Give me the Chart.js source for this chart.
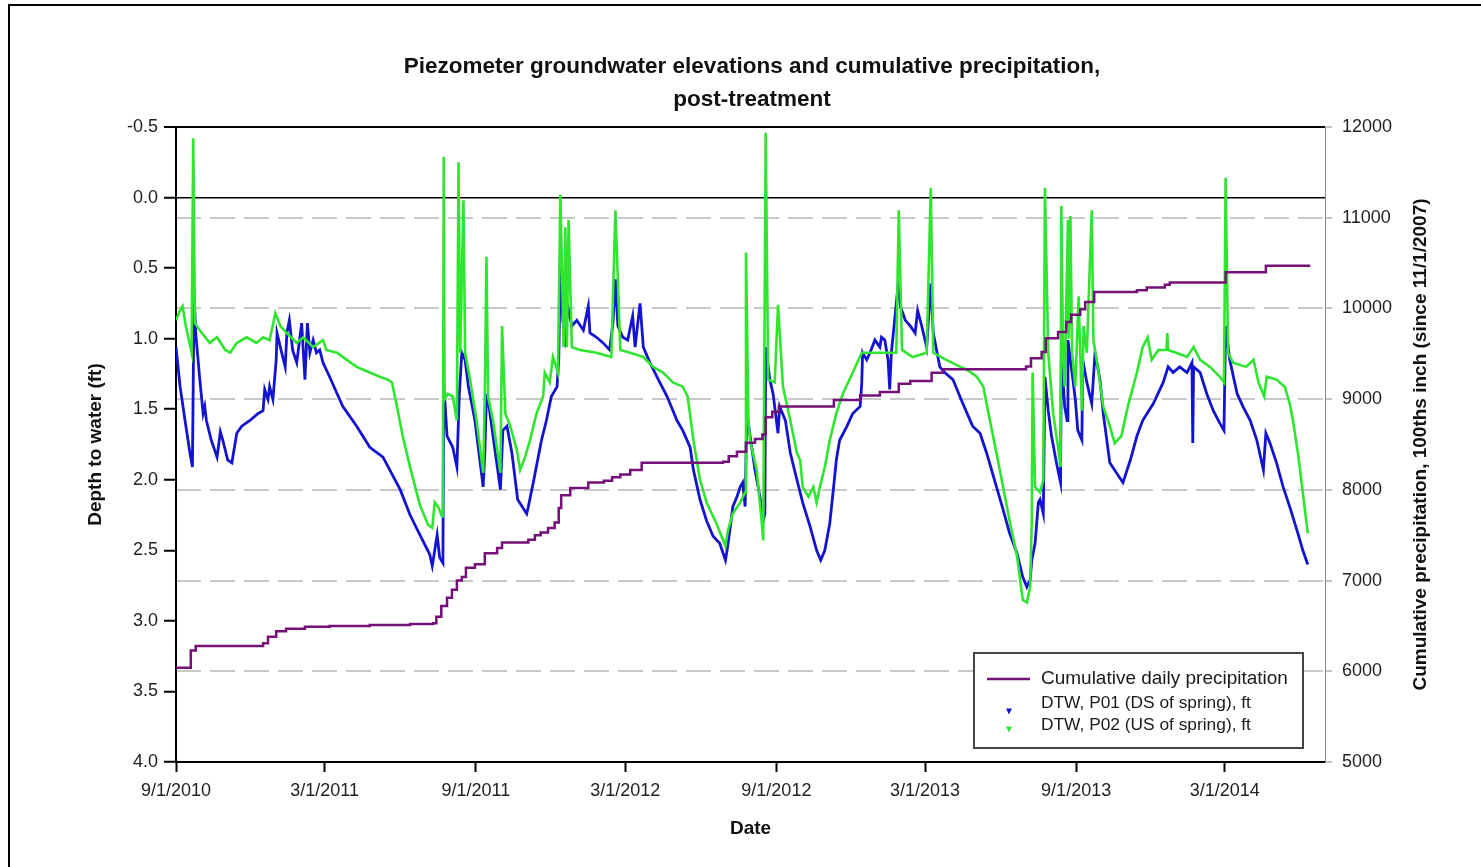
<!DOCTYPE html>
<html>
<head>
<meta charset="utf-8">
<script src="https://cdn.jsdelivr.net/npm/chart.js@4.4.1/dist/chart.umd.min.js"></script>
<style>
html,body{margin:0;padding:0;background:#fff;}
#wrap{position:relative;width:1481px;height:867px;overflow:hidden;background:#fff;}
#frame{position:absolute;left:8px;top:4px;width:1520px;height:920px;border:2px solid #000;box-sizing:border-box;pointer-events:none;}
canvas{position:absolute;left:0;top:0;}
</style>
</head>
<body>
<div id="wrap"><canvas id="c" width="1481" height="867"></canvas><div id="frame"></div></div>
<script>
// ---------- DATA ----------
const chartTitle = ['Piezometer groundwater elevations and cumulative precipitation,', 'post-treatment'];
const xTickLabels = ['9/1/2010','3/1/2011','9/1/2011','3/1/2012','9/1/2012','3/1/2013','9/1/2013','3/1/2014'];
const xRange = ['2010-09-01','2014-07-01'];
const depthRange = [-0.5, 4.0];
const precipRange = [5000, 12000];

const precipDates = ['2010-09-01','2010-09-19','2010-09-25','2010-12-16','2010-12-22','2011-01-01','2011-01-13','2011-02-05','2011-03-07','2011-04-25','2011-06-13','2011-07-11','2011-07-15','2011-07-21','2011-07-28','2011-08-03','2011-08-09','2011-08-15','2011-08-20','2011-08-31','2011-09-12','2011-09-27','2011-10-03','2011-11-04','2011-11-12','2011-11-19','2011-11-28','2011-12-06','2011-12-11','2011-12-14','2011-12-25','2012-01-16','2012-02-04','2012-02-14','2012-02-24','2012-03-07','2012-03-21','2012-06-28','2012-07-05','2012-07-15','2012-07-26','2012-08-06','2012-08-15','2012-08-19','2012-08-27','2012-09-04','2012-11-10','2012-12-12','2013-01-05','2013-01-28','2013-02-11','2013-03-09','2013-03-23','2013-07-02','2013-07-08','2013-07-21','2013-07-26','2013-08-10','2013-08-20','2013-08-26','2013-09-06','2013-09-12','2013-09-23','2013-11-14','2013-11-26','2013-12-18','2013-12-24','2014-03-02','2014-04-20','2014-06-13'];
const precipValues = [6040,6230,6280,6310,6380,6440,6470,6490,6500,6510,6520,6530,6600,6720,6810,6900,7000,7040,7140,7180,7300,7360,7420,7450,7500,7530,7580,7640,7800,7940,8020,8080,8100,8140,8170,8220,8300,8310,8370,8420,8520,8560,8610,8800,8860,8920,8990,9040,9080,9170,9200,9290,9330,9360,9450,9520,9670,9740,9850,9930,9990,10070,10180,10200,10230,10260,10285,10400,10470,10470];

const p01Dates = ['2010-09-01','2010-09-06','2010-09-12','2010-09-18','2010-09-21','2010-09-23','2010-09-25','2010-09-30','2010-10-04','2010-10-06','2010-10-08','2010-10-14','2010-10-21','2010-10-25','2010-10-28','2010-11-03','2010-11-08','2010-11-14','2010-11-20','2010-11-30','2010-12-10','2010-12-16','2010-12-18','2010-12-22','2010-12-24','2010-12-28','2011-01-01','2011-01-02','2011-01-06','2011-01-12','2011-01-14','2011-01-17','2011-01-21','2011-01-26','2011-02-01','2011-02-05','2011-02-08','2011-02-11','2011-02-15','2011-02-19','2011-02-23','2011-02-27','2011-03-07','2011-03-23','2011-04-09','2011-04-25','2011-05-11','2011-06-01','2011-06-13','2011-06-25','2011-07-07','2011-07-10','2011-07-16','2011-07-19','2011-07-23','2011-07-24','2011-07-28','2011-08-04','2011-08-09','2011-08-12','2011-08-15','2011-08-19','2011-08-23','2011-08-31','2011-09-10','2011-09-12','2011-09-14','2011-09-16','2011-09-22','2011-10-01','2011-10-04','2011-10-09','2011-10-15','2011-10-22','2011-11-02','2011-11-04','2011-11-10','2011-11-20','2011-11-26','2011-12-02','2011-12-09','2011-12-11','2011-12-13','2011-12-16','2011-12-19','2011-12-22','2011-12-27','2012-01-02','2012-01-10','2012-01-16','2012-01-18','2012-01-26','2012-02-03','2012-02-11','2012-02-15','2012-02-18','2012-02-21','2012-02-27','2012-03-04','2012-03-10','2012-03-13','2012-03-19','2012-03-23','2012-03-31','2012-04-12','2012-04-21','2012-05-03','2012-05-10','2012-05-19','2012-05-23','2012-05-31','2012-06-08','2012-06-16','2012-06-24','2012-07-01','2012-07-03','2012-07-07','2012-07-10','2012-07-15','2012-07-19','2012-07-22','2012-07-25','2012-07-27','2012-07-31','2012-08-06','2012-08-12','2012-08-16','2012-08-18','2012-08-19','2012-08-24','2012-08-28','2012-09-03','2012-09-05','2012-09-12','2012-09-18','2012-09-26','2012-10-03','2012-10-12','2012-10-20','2012-10-25','2012-10-30','2012-11-05','2012-11-09','2012-11-13','2012-11-17','2012-11-26','2012-12-03','2012-12-12','2012-12-14','2012-12-15','2012-12-20','2012-12-24','2012-12-30','2013-01-05','2013-01-07','2013-01-11','2013-01-15','2013-01-17','2013-01-19','2013-01-23','2013-01-27','2013-01-30','2013-02-05','2013-02-11','2013-02-17','2013-02-20','2013-02-25','2013-03-03','2013-03-08','2013-03-11','2013-03-19','2013-03-25','2013-04-04','2013-04-16','2013-04-28','2013-05-07','2013-05-15','2013-05-27','2013-06-04','2013-06-12','2013-06-21','2013-06-28','2013-07-03','2013-07-07','2013-07-09','2013-07-13','2013-07-17','2013-07-19','2013-07-23','2013-07-25','2013-07-29','2013-08-02','2013-08-08','2013-08-13','2013-08-14','2013-08-18','2013-08-21','2013-08-22','2013-08-27','2013-08-31','2013-09-03','2013-09-08','2013-09-09','2013-09-14','2013-09-20','2013-09-24','2013-09-30','2013-10-04','2013-10-12','2013-10-20','2013-10-28','2013-11-06','2013-11-14','2013-11-21','2013-12-04','2013-12-16','2013-12-22','2013-12-28','2014-01-05','2014-01-14','2014-01-20','2014-01-21','2014-01-22','2014-01-30','2014-02-07','2014-02-15','2014-02-23','2014-02-28','2014-03-02','2014-03-07','2014-03-16','2014-03-23','2014-04-01','2014-04-09','2014-04-17','2014-04-20','2014-04-25','2014-05-03','2014-05-11','2014-05-19','2014-05-28','2014-06-04','2014-06-10'];
const p01Depth = [1.06,1.34,1.58,1.81,1.91,0.68,0.96,1.29,1.53,1.48,1.58,1.72,1.84,1.66,1.72,1.86,1.88,1.67,1.62,1.58,1.53,1.51,1.36,1.43,1.34,1.43,1.15,0.96,1.06,1.20,0.96,0.87,1.08,1.17,0.89,1.29,0.89,1.10,1.01,1.10,1.08,1.17,1.27,1.48,1.62,1.77,1.84,2.07,2.25,2.39,2.53,2.61,2.39,2.55,2.59,1.31,1.69,1.77,1.91,1.39,1.10,1.15,1.34,1.58,2.05,1.81,1.41,1.43,1.69,2.07,1.65,1.62,1.81,2.14,2.24,2.19,2.02,1.72,1.58,1.41,1.34,1.15,0.51,0.87,0.99,0.77,0.91,0.87,0.94,0.77,0.96,0.99,1.03,1.08,0.89,0.58,0.91,0.99,1.01,0.84,1.06,0.75,1.06,1.17,1.31,1.41,1.58,1.65,1.77,1.93,2.14,2.29,2.40,2.45,2.57,2.50,2.33,2.19,2.12,2.05,2.02,2.19,1.51,1.69,1.93,2.12,2.29,2.24,1.06,1.29,1.39,1.67,1.48,1.58,1.81,2.00,2.16,2.33,2.50,2.57,2.50,2.31,2.09,1.86,1.72,1.62,1.53,1.48,1.31,1.10,1.15,1.10,1.01,1.06,0.99,1.01,1.15,1.36,1.10,0.87,0.63,0.77,0.87,0.91,0.96,0.80,0.91,1.06,0.61,0.96,1.20,1.24,1.29,1.46,1.62,1.67,1.81,2.05,2.21,2.38,2.52,2.69,2.76,2.71,2.57,2.45,2.16,2.14,2.24,1.27,1.51,1.69,1.88,2.02,1.10,1.48,1.58,1.01,1.24,1.43,1.65,1.72,1.15,1.31,1.46,1.10,1.29,1.53,1.88,1.95,2.02,1.86,1.69,1.58,1.46,1.31,1.20,1.24,1.20,1.24,1.17,1.74,1.20,1.24,1.39,1.51,1.60,1.65,0.91,1.15,1.39,1.48,1.58,1.72,1.93,1.67,1.74,1.88,2.05,2.19,2.36,2.50,2.60];

const p02Dates = ['2010-09-01','2010-09-06','2010-09-09','2010-09-13','2010-09-20','2010-09-22','2010-09-24','2010-09-30','2010-10-12','2010-10-21','2010-10-31','2010-11-06','2010-11-14','2010-11-26','2010-12-08','2010-12-16','2010-12-24','2010-12-31','2011-01-06','2011-01-14','2011-01-26','2011-02-03','2011-02-15','2011-02-27','2011-03-03','2011-03-16','2011-03-28','2011-04-09','2011-04-25','2011-05-07','2011-05-17','2011-05-22','2011-05-28','2011-06-04','2011-06-13','2011-06-25','2011-07-05','2011-07-10','2011-07-13','2011-07-17','2011-07-22','2011-07-23','2011-07-24','2011-07-25','2011-07-29','2011-08-04','2011-08-09','2011-08-11','2011-08-13','2011-08-17','2011-08-19','2011-08-25','2011-09-02','2011-09-10','2011-09-12','2011-09-14','2011-09-16','2011-09-22','2011-10-01','2011-10-03','2011-10-07','2011-10-13','2011-10-21','2011-10-25','2011-10-31','2011-11-06','2011-11-14','2011-11-22','2011-11-24','2011-11-30','2011-12-04','2011-12-10','2011-12-13','2011-12-17','2011-12-19','2011-12-21','2011-12-23','2011-12-27','2012-01-06','2012-01-26','2012-02-13','2012-02-18','2012-02-24','2012-03-07','2012-03-23','2012-04-04','2012-04-16','2012-04-28','2012-05-10','2012-05-16','2012-05-23','2012-05-31','2012-06-08','2012-06-20','2012-07-01','2012-07-04','2012-07-10','2012-07-19','2012-07-25','2012-07-26','2012-07-29','2012-07-31','2012-08-08','2012-08-14','2012-08-16','2012-08-19','2012-08-22','2012-08-30','2012-09-03','2012-09-09','2012-09-18','2012-09-26','2012-09-30','2012-10-03','2012-10-10','2012-10-16','2012-10-20','2012-10-24','2012-10-30','2012-11-05','2012-11-13','2012-11-21','2012-12-03','2012-12-14','2012-12-28','2013-01-13','2013-01-25','2013-01-28','2013-02-01','2013-02-14','2013-03-03','2013-03-08','2013-03-11','2013-03-27','2013-04-13','2013-04-21','2013-05-03','2013-05-11','2013-05-19','2013-05-27','2013-06-04','2013-06-12','2013-06-21','2013-06-28','2013-07-03','2013-07-07','2013-07-09','2013-07-10','2013-07-13','2013-07-19','2013-07-23','2013-07-25','2013-07-29','2013-08-04','2013-08-10','2013-08-13','2013-08-14','2013-08-16','2013-08-18','2013-08-22','2013-08-23','2013-08-25','2013-08-27','2013-08-31','2013-09-04','2013-09-08','2013-09-10','2013-09-14','2013-09-20','2013-09-22','2013-09-26','2013-10-04','2013-10-12','2013-10-18','2013-10-26','2013-11-03','2013-11-14','2013-11-21','2013-11-27','2013-12-02','2013-12-10','2013-12-20','2013-12-21','2013-12-22','2014-01-01','2014-01-14','2014-01-22','2014-01-30','2014-02-11','2014-02-23','2014-02-28','2014-03-02','2014-03-05','2014-03-11','2014-03-27','2014-04-05','2014-04-11','2014-04-18','2014-04-21','2014-05-03','2014-05-13','2014-05-19','2014-05-23','2014-05-29','2014-06-04','2014-06-10'];
const p02Depth = [0.87,0.80,0.77,0.91,1.10,-0.42,0.89,0.94,1.03,0.99,1.08,1.10,1.03,0.99,1.03,0.99,1.01,0.82,0.91,0.96,1.03,0.99,1.06,1.01,1.08,1.10,1.15,1.20,1.24,1.27,1.29,1.31,1.48,1.69,1.91,2.18,2.32,2.34,2.16,2.19,2.26,2.12,-0.29,1.43,1.39,1.41,1.58,-0.25,1.10,0.02,1.10,1.29,1.58,1.95,1.39,0.42,1.41,1.58,1.95,0.91,1.53,1.62,1.79,1.93,1.84,1.72,1.53,1.41,1.24,1.31,1.13,1.24,-0.02,1.06,0.21,1.06,0.16,1.06,1.08,1.10,1.13,0.09,1.08,1.10,1.13,1.20,1.24,1.31,1.34,1.41,1.72,2.00,2.16,2.31,2.47,2.36,2.24,2.16,2.09,0.39,1.58,1.72,1.93,2.29,2.43,-0.46,1.29,1.31,0.76,1.34,1.58,1.81,1.86,2.05,2.12,2.05,2.16,2.05,1.91,1.72,1.53,1.39,1.24,1.10,1.10,1.10,1.10,0.09,1.08,1.13,1.10,-0.07,1.10,1.15,1.20,1.22,1.27,1.34,1.58,1.81,2.05,2.29,2.54,2.85,2.87,2.76,2.29,1.24,2.05,2.09,2.00,-0.07,1.10,1.53,1.77,1.91,0.06,1.10,1.34,0.16,1.00,0.13,1.10,1.34,0.70,1.51,0.91,1.10,0.09,1.01,1.15,1.48,1.62,1.74,1.69,1.48,1.24,1.06,0.99,1.15,1.08,1.08,0.96,1.08,1.10,1.13,1.06,1.15,1.20,1.27,1.31,-0.14,1.10,1.17,1.20,1.15,1.31,1.41,1.27,1.29,1.34,1.46,1.58,1.81,2.09,2.38];

const seriesLabels = ['Cumulative daily precipitation', 'DTW, P01 (DS of spring), ft', 'DTW, P02 (US of spring), ft'];
const axisTitles = { left: 'Depth to water (ft)', right: 'Cumulative precipitation, 100ths inch (since 11/1/2007)', bottom: 'Date' };

// ---------- HELPERS ----------
const DAY = 86400000;
const origin = Date.UTC(2010, 8, 1);
function dayISO(s){ const [y,m,d] = s.split('-').map(Number); return (Date.UTC(y,m-1,d) - origin) / DAY; }
function dayMDY(s){ const [m,d,y] = s.split('/').map(Number); return (Date.UTC(y,m-1,d) - origin) / DAY; }
function pts(dates, vals){ return dates.map((d,i) => ({x: dayISO(d), y: vals[i]})); }

const FONT = "'Liberation Sans', Arial, Helvetica, sans-serif";
Chart.defaults.font.family = FONT;
Chart.defaults.color = '#1a1a1a';

const COLORS = { precip: '#741078', p01: '#1414d0', p02: '#2fe52f' };

// size a legend string so it spans the same width as in the source
function fitFont(ctx, text, targetW, base){
  ctx.font = base + 'px ' + FONT;
  const w = ctx.measureText(text).width || targetW;
  return base * targetW / w;
}

// legend + right title drawn inside the plot
const decorations = {
  id: 'decorations',
  afterDraw(chart){
    const {ctx, chartArea: a} = chart;
    const ds = chart.data.datasets;
    // right axis title, reading bottom-to-top
    ctx.save();
    ctx.translate(a.right + 96, (a.top + a.bottom) / 2);
    ctx.rotate(-Math.PI/2);
    ctx.font = "bold 19px " + FONT;
    ctx.fillStyle = '#111';
    ctx.textAlign = 'center';
    ctx.textBaseline = 'middle';
    ctx.fillText(axisTitles.right, 0, 0);
    ctx.restore();

    // legend box
    const L = a.right - 351, T = a.bottom - 109, W = 329, H = 95;
    ctx.save();
    ctx.fillStyle = '#fff';
    ctx.fillRect(L, T, W, H);
    ctx.strokeStyle = '#444';
    ctx.lineWidth = 2;
    ctx.strokeRect(L, T, W, H);
    // line sample
    ctx.strokeStyle = ds[0].borderColor;
    ctx.lineWidth = 2.5;
    ctx.beginPath(); ctx.moveTo(L + 13, T + 26); ctx.lineTo(L + 56, T + 26); ctx.stroke();
    ctx.fillStyle = '#1a1a1a';
    ctx.textAlign = 'left'; ctx.textBaseline = 'middle';
    const s0 = fitFont(ctx, ds[0].label, 247, 19);
    ctx.font = s0.toFixed(2) + 'px ' + FONT;
    ctx.fillText(ds[0].label, L + 67, T + 26);
    const rows = [[ds[1], 50, 58.5], [ds[2], 72, 76.5]];
    rows.forEach(([d, ty, my]) => {
      ctx.fillStyle = d.borderColor;
      ctx.beginPath();
      ctx.moveTo(L + 32, T + my - 3);
      ctx.lineTo(L + 38, T + my - 3);
      ctx.lineTo(L + 35, T + my + 3);
      ctx.closePath(); ctx.fill();
      const s = fitFont(ctx, d.label, 210, 17);
      ctx.font = s.toFixed(2) + 'px ' + FONT;
      ctx.fillStyle = '#1a1a1a';
      ctx.fillText(d.label, L + 67, T + ty);
    });
    ctx.restore();
  }
};

const ctx = document.getElementById('c').getContext('2d');
new Chart(ctx, {
  type: 'line',
  data: {
    datasets: [
      { label: seriesLabels[0], data: pts(precipDates, precipValues), yAxisID: 'y2', borderColor: COLORS.precip, borderWidth: 2.5, stepped: 'before', pointRadius: 0, order: 0 },
      { label: seriesLabels[1], data: pts(p01Dates, p01Depth), yAxisID: 'y', borderColor: COLORS.p01, borderWidth: 2.8, pointRadius: 0, tension: 0, order: 2 },
      { label: seriesLabels[2], data: pts(p02Dates, p02Depth), yAxisID: 'y', borderColor: COLORS.p02, borderWidth: 2.6, pointRadius: 0, tension: 0, order: 1 }
    ]
  },
  options: {
    responsive: false,
    animation: false,
    devicePixelRatio: 1,
    events: [],
    layout: { padding: { left: 30, right: 7, top: 0, bottom: 0 } },
    plugins: {
      legend: { display: false },
      tooltip: { enabled: false },
      title: {
        display: true, text: chartTitle, color: '#111',
        font: { size: 22.5, weight: 'bold', lineHeight: 33/22.5 },
        padding: { top: 50.5, bottom: 10.5 }
      }
    },
    scales: {
      x: {
        type: 'linear', position: 'bottom',
        min: dayISO(xRange[0]), max: dayISO(xRange[1]),
        afterBuildTicks: s => { s.ticks = xTickLabels.map(l => ({ value: dayMDY(l) })); },
        ticks: { autoSkip: false, maxRotation: 0, font: { size: 18 }, color: '#222', padding: 8,
                 callback: (v, i) => xTickLabels[i] },
        grid: { drawOnChartArea: false, tickLength: 10, tickWidth: 2, tickColor: '#000' },
        border: { color: '#000', width: 2 },
        title: { display: true, text: axisTitles.bottom, color: '#111', font: { size: 19, weight: 'bold' }, padding: { top: 0, bottom: 26.6 } },
        afterFit: s => { s.height = 105; }
      },
      y: {
        type: 'linear', position: 'left', reverse: true,
        min: depthRange[0], max: depthRange[1],
        ticks: { stepSize: 0.5, font: { size: 18 }, color: '#222', padding: 6, callback: v => Number(v).toFixed(1) },
        grid: {
          color: c => (c.tick && (c.tick.value === 0 || c.tick.value === -0.5)) ? '#000' : 'rgba(0,0,0,0)',
          lineWidth: c => (c.tick && c.tick.value === -0.5) ? 2 : 1.5,
          tickColor: '#000', tickWidth: 2, tickLength: 12
        },
        border: { color: '#000', width: 2 },
        title: { display: true, text: axisTitles.left, color: '#111', font: { size: 19, weight: 'bold' }, padding: { top: 54.6, bottom: 0 } },
        afterFit: s => { s.width = 146; }
      },
      y2: {
        type: 'linear', position: 'right',
        min: precipRange[0], max: precipRange[1],
        ticks: { stepSize: 1000, font: { size: 18 }, color: '#222', padding: 10, callback: v => String(v) },
        grid: {
          drawOnChartArea: true,
          color: c => (c.tick && c.tick.value > precipRange[0] && c.tick.value < precipRange[1]) ? '#c8c8c8' : 'rgba(0,0,0,0)',
          lineWidth: 2, tickColor: '#888', tickWidth: 1, tickLength: 7
        },
        border: { color: '#888', width: 1, dash: [25, 9] },
        afterFit: s => { s.width = 149; }
      }
    }
  },
  plugins: [decorations]
});
</script>
</body>
</html>
